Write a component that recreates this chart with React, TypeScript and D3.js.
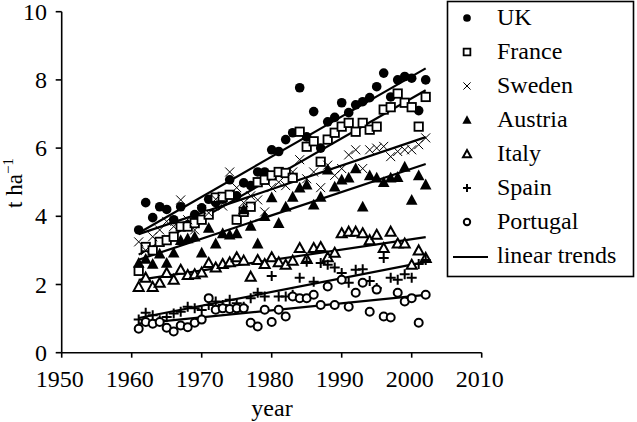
import React from "react";
import * as d3 from "d3";

const years: number[] = d3.range(1961, 2003);

const uk = [3.6, 4.4, 3.96, 4.28, 4.2, 3.9, 4.28, 3.75, 4.05, 4.25, 4.5, 4.4, 4.5, 5.07, 4.6, 4.98, 4.9, 5.3, 5.3, 5.95, 5.9, 6.25, 6.45, 7.77, 6.33, 7.07, 6.0, 6.77, 6.9, 7.33, 7.04, 7.27, 7.36, 7.48, 7.8, 8.2, 7.5, 8.0, 8.1, 8.05, 7.1, 8.0];
const france = [2.4, 3.1, 3.0, 3.25, 3.3, 3.4, 3.7, 3.7, 3.8, 3.9, 4.05, 4.55, 4.57, 4.63, 3.9, 4.13, 4.28, 5.0, 5.07, 5.2, 5.3, 5.27, 5.13, 6.48, 6.04, 6.2, 5.6, 6.25, 6.45, 6.63, 6.74, 6.48, 6.74, 6.54, 6.63, 7.13, 7.2, 7.6, 7.33, 7.2, 6.63, 7.5];
const sweden = [3.25, 3.0, 3.4, 3.6, 3.85, 3.7, 4.48, 3.9, 3.6, 4.2, 4.1, 4.5, 4.3, 5.3, 4.84, 4.4, 4.6, 4.48, 4.13, 4.84, 5.0, 4.9, 5.3, 5.66, 5.1, 5.3, 4.84, 5.5, 5.2, 5.4, 5.8, 5.95, 5.4, 5.95, 6.0, 6.05, 5.75, 5.9, 5.95, 5.95, 6.1, 6.3];
const austria = [2.63, 2.75, 2.6, 2.9, 2.63, 2.93, 3.3, 3.35, 3.4, 2.93, 3.66, 3.2, 3.5, 3.46, 3.5, 4.2, 3.72, 3.2, 4.0, 4.55, 3.8, 4.28, 4.57, 4.84, 4.93, 4.34, 4.57, 5.37, 4.87, 5.07, 5.13, 5.4, 4.28, 5.2, 5.13, 5.0, 5.13, 5.15, 5.45, 4.48, 5.2, 4.93];
const italy = [1.93, 2.2, 1.93, 2.05, 2.34, 2.14, 2.43, 2.28, 2.3, 2.35, 2.63, 2.5, 2.6, 2.65, 2.8, 2.7, 2.23, 2.72, 2.6, 2.8, 2.65, 2.58, 2.7, 3.07, 2.75, 3.07, 3.1, 2.8, 2.93, 3.5, 3.55, 3.55, 3.5, 3.3, 3.46, 3.07, 3.55, 3.2, 3.2, 2.58, 3.0, 2.78];
const spain = [0.97, 1.17, 1.1, 0.95, 1.05, 1.15, 1.2, 1.35, 1.3, 1.25, 1.4, 1.5, 1.4, 1.55, 1.45, 1.35, 1.6, 1.76, 1.65, 2.25, 1.65, 1.65, 1.7, 2.2, 2.67, 2.08, 2.63, 2.58, 2.5, 2.34, 2.05, 2.43, 2.45, 2.1, 1.9, 2.78, 2.2, 2.14, 2.3, 2.2, 2.6, 2.72];
const portugal = [0.7, 0.9, 0.85, 0.9, 0.73, 0.62, 0.8, 0.75, 0.88, 0.97, 1.6, 1.26, 1.3, 1.28, 1.3, 1.3, 0.88, 0.77, 1.26, 0.9, 1.26, 1.06, 1.65, 1.6, 1.6, 1.7, 1.4, 1.94, 1.4, 2.14, 1.35, 1.76, 2.05, 1.2, 1.85, 1.06, 1.03, 1.76, 1.5, 1.6, 0.88, 1.7];

const seriesNames = ["UK", "France", "Sweden", "Austria", "Italy", "Spain", "Portugal"];
const seriesValues = [uk, france, sweden, austria, italy, spain, portugal];
const markerKinds = ["dot", "square", "cross", "triFill", "triOpen", "plus", "circle"];
const trendLabel = "linear trends";

const xTicks = [1950, 1960, 1970, 1980, 1990, 2000, 2010];
const yTicks = [0, 2, 4, 6, 8, 10];

const FONT = "'Liberation Serif', 'Times New Roman', serif";

function Marker({ kind, x, y, s }: { kind: string; x: number; y: number; s: number }) {
  switch (kind) {
    case "dot":
      return <circle cx={x} cy={y} r={4.8 * s} fill="#000" />;
    case "square":
      return <rect x={x - 4.2 * s} y={y - 4.2 * s} width={8.4 * s} height={8.4 * s} fill="#fff" stroke="#000" strokeWidth={1.8} />;
    case "cross":
      return (
        <path d={`M${x - 4.5 * s},${y - 4.5 * s}L${x + 4.5 * s},${y + 4.5 * s}M${x - 4.5 * s},${y + 4.5 * s}L${x + 4.5 * s},${y - 4.5 * s}`} stroke="#000" strokeWidth={1} fill="none" />
      );
    case "triFill":
      return <path d={`M${x},${y - 6 * s}L${x + 5.8 * s},${y + 4.8 * s}L${x - 5.8 * s},${y + 4.8 * s}Z`} fill="#000" />;
    case "triOpen":
      return <path d={`M${x},${y - 5 * s}L${x + 5 * s},${y + 4 * s}L${x - 5 * s},${y + 4 * s}Z`} fill="#fff" stroke="#000" strokeWidth={2} strokeLinejoin="miter" />;
    case "plus":
      return <path d={`M${x - 5 * s},${y}L${x + 5 * s},${y}M${x},${y - 5 * s}L${x},${y + 5 * s}`} stroke="#000" strokeWidth={2} fill="none" />;
    case "circle":
      return <circle cx={x} cy={y} r={4 * s} fill="#fff" stroke="#000" strokeWidth={2} />;
    default:
      return null;
  }
}

function regression(xs: number[], ys: number[]) {
  const mx = d3.mean(xs)!;
  const my = d3.mean(ys)!;
  let num = 0;
  let den = 0;
  xs.forEach((xv, i) => {
    num += (xv - mx) * (ys[i] - my);
    den += (xv - mx) * (xv - mx);
  });
  const b = num / den;
  const a = my - b * mx;
  return (xv: number) => a + b * xv;
}

export default function App() {
  const W = 637;
  const H = 422;
  const x = d3.scaleLinear().domain([1950, 2010]).range([61.7, 481.7]);
  const y = d3.scaleLinear().domain([0, 10]).range([352.7, 11.7]);
  const line = d3.line<[number, number]>().x((d) => x(d[0])).y((d) => y(d[1]));
  const x0 = years[0];
  const x1 = years[years.length - 1];

  return (
    <svg width={W} height={H} style={{ position: "absolute", left: 0, top: 0, background: "#fff" }} fontFamily={FONT}>
      <rect x={0} y={0} width={W} height={H} fill="#fff" />
      {/* trend lines */}
      {seriesValues.map((vals, i) => {
        const f = regression(years, vals);
        return <path key={"t" + i} d={line([[x0, f(x0)], [x1, f(x1)]]) || ""} stroke="#000" strokeWidth={2.2} fill="none" />;
      })}
      {/* markers */}
      {seriesValues.map((vals, i) => (
        <g key={"s" + i}>
          {vals.map((v, j) => (
            <Marker key={j} kind={markerKinds[i]} x={x(years[j])} y={y(v)} s={1} />
          ))}
        </g>
      ))}
      {/* axes */}
      <line x1={x(1950)} x2={x(2010)} y1={y(0)} y2={y(0)} stroke="#000" strokeWidth={1.6} />
      <line x1={x(1950)} x2={x(1950)} y1={y(0)} y2={y(10)} stroke="#000" strokeWidth={1.6} />
      {xTicks.map((t) => (
        <g key={"xt" + t}>
          <line x1={x(t)} x2={x(t)} y1={y(0)} y2={y(0) + 5} stroke="#000" strokeWidth={1.6} />
          <text x={x(t) - 2} y={387} textAnchor="middle" fontSize={24}>{t}</text>
        </g>
      ))}
      {yTicks.map((t) => (
        <g key={"yt" + t}>
          <line x1={x(1950) - 6} x2={x(1950)} y1={y(t)} y2={y(t)} stroke="#000" strokeWidth={1.6} />
          <text x={47} y={y(t) + 8} textAnchor="end" fontSize={24}>{t}</text>
        </g>
      ))}
      <text x={272} y={416} textAnchor="middle" fontSize={24}>year</text>
      <text transform="translate(22,183) rotate(-90)" textAnchor="middle" fontSize={23}>
        t ha<tspan dy={-9} fontSize={15}>−1</tspan>
      </text>
      {/* legend */}
      <rect x={447.5} y={1.5} width={186} height={275} fill="#fff" stroke="#000" strokeWidth={1.6} />
      {seriesNames.map((name, i) => {
        const base = 25 + i * 34;
        return (
          <g key={"l" + i}>
            <Marker kind={markerKinds[i]} x={467} y={base - 7} s={0.8} />
            <text x={497} y={base} fontSize={24}>{name}</text>
          </g>
        );
      })}
      <line x1={453} x2={488} y1={257} y2={257} stroke="#000" strokeWidth={2} />
      <text x={497} y={263} fontSize={24}>{trendLabel}</text>
    </svg>
  );
}
